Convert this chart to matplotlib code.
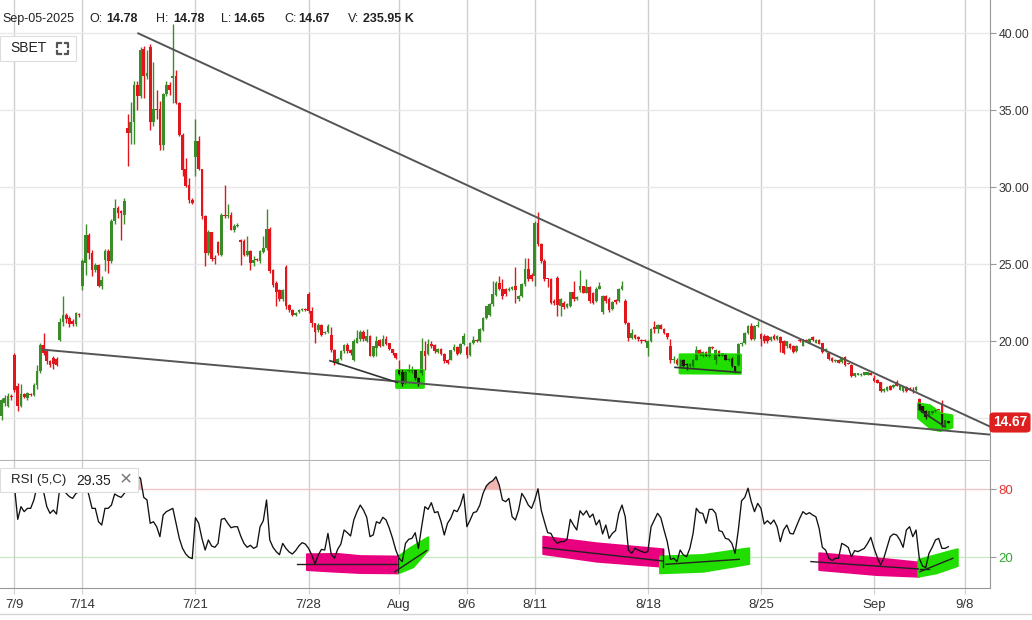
import numpy as np
import matplotlib.pyplot as plt
from matplotlib.patches import Polygon, Rectangle, FancyBboxPatch
from matplotlib.lines import Line2D

plt.rcParams['font.family'] = ['Liberation Sans', 'DejaVu Sans']

W, H = 1032, 620

# trading sessions on the axis (7/8 only its last 4 hours, 9/5 still running)
sessions = ['7/8', '7/9', '7/10', '7/11', '7/14', '7/15', '7/16', '7/17', '7/18',
            '7/21', '7/22', '7/23', '7/24', '7/25', '7/28', '7/29', '7/30', '7/31',
            '8/1', '8/4', '8/5', '8/6', '8/7', '8/8', '8/11', '8/12', '8/13', '8/14',
            '8/15', '8/18', '8/19', '8/20', '8/21', '8/22', '8/25', '8/26', '8/27',
            '8/28', '8/29', '9/2', '9/3', '9/4', '9/5', '9/8']
bars_per_session = [4] + [7] * 41 + [3, 0]
hours_per_session = 7

tick_sessions = ['7/9', '7/14', '7/21', '7/28', '8/1', '8/6', '8/11', '8/18', '8/25', '9/2', '9/8']
tick_labels = ['7/9', '7/14', '7/21', '7/28', 'Aug', '8/6', '8/11', '8/18', '8/25', 'Sep', '9/8']
price_ticks = [15, 20, 25, 30, 35, 40]

# hourly SBET candles, one line per session
opens = [
    15.11, 16.00, 15.80, 16.45,
    19.11, 17.06, 15.76, 16.58, 16.30, 16.55, 16.52,
    17.16, 18.03, 19.76, 19.33, 18.68, 18.90, 18.83,
    20.04, 21.23, 21.71, 21.50, 21.30, 21.10, 21.75,
    23.55, 25.06, 26.90, 25.71, 24.63, 24.96, 23.55,
    25.28, 25.82, 25.17, 27.77, 28.64, 28.42, 28.20,
    33.83, 33.51, 34.26, 36.65, 35.89, 38.96, 37.19,
    39.10, 34.26, 35.06, 35.06, 32.75, 36.06, 36.65,
    37.08, 37.19, 35.45, 33.40, 31.17, 30.15, 29.18,
    31.99, 33.03, 31.17, 28.10, 25.71, 27.08, 25.40,
    26.41, 25.61, 28.20, 28.14, 28.20, 27.20, 27.50,
    26.54, 26.50, 25.61, 25.82, 25.06, 25.30, 25.17,
    25.80, 26.04, 27.29, 24.63, 23.77, 23.29, 22.73,
    24.81, 22.36, 21.99, 21.71, 21.90, 22.00, 22.08,
    23.07, 21.97, 21.20, 20.70, 21.06, 20.50, 20.56,
    20.40, 19.44, 18.57, 18.83, 19.33, 19.76, 19.40,
    18.80, 19.90, 20.10, 20.60, 20.00, 20.30, 19.00,
    19.55, 20.05, 19.70, 20.13, 19.87, 19.48, 19.22,
    18.10, 18.00, 17.30, 18.05, 18.05, 18.10, 17.60,
    17.90, 19.33, 19.18, 19.83, 19.76, 19.30, 19.48,
    19.18, 18.79, 18.80, 19.40, 19.60, 19.23, 19.80,
    19.60, 19.10, 19.87, 20.04, 20.00, 20.70, 21.48,
    21.70, 22.40, 23.00, 23.77, 23.40, 23.35, 23.30,
    23.35, 23.60, 22.70, 22.90, 23.70, 24.70, 24.30,
    24.20, 27.70, 26.30, 25.20, 24.05, 24.00, 22.60,
    24.10, 22.30, 22.50, 22.20, 22.25, 23.20, 22.70,
    23.30, 23.55, 23.15, 23.50, 23.15, 22.60, 23.40,
    21.90, 22.90, 22.75, 22.10, 22.65, 22.60, 23.40,
    22.60, 21.20, 20.20, 20.40, 20.25, 20.05, 20.05,
    19.55, 20.00, 20.90, 20.80, 21.06, 20.80, 20.50,
    19.70, 18.75, 18.80, 18.35, 18.80, 18.50, 18.35,
    18.35, 18.80, 19.44, 19.00, 19.30, 19.00, 19.60,
    18.80, 19.33, 19.05, 19.10, 18.75, 18.85, 18.35,
    18.46, 19.80, 19.87, 20.50, 21.00, 20.10, 20.95,
    20.45, 20.30, 20.30, 20.05, 20.35, 20.10, 20.25,
    19.98, 19.65, 19.80, 19.65, 19.33, 20.04, 19.70,
    20.04, 19.87, 20.26, 19.87, 20.09, 19.87, 19.33,
    19.22, 18.90, 18.68, 18.79, 18.61, 18.94, 18.57,
    18.46, 17.71, 17.81, 17.79, 17.81, 17.81, 17.92,
    17.60, 17.49, 17.32, 16.73, 16.80, 17.10, 17.01,
    17.32, 16.84, 16.73, 17.01, 16.95, 16.84, 16.80,
    16.23, 15.76, 15.43, 15.11, 15.32, 15.43, 15.56,
    16.00, 14.50, 14.78,
]
highs = [
    16.30, 16.50, 16.60, 16.55,
    19.20, 17.30, 17.20, 16.65, 16.70, 16.65, 17.25,
    18.46, 19.90, 20.50, 19.40, 18.75, 19.00, 18.95,
    21.50, 22.90, 21.80, 21.60, 21.40, 21.90, 21.85,
    25.30, 27.60, 27.00, 25.90, 25.10, 25.00, 24.20,
    26.00, 26.00, 27.90, 29.20, 28.80, 28.50, 29.30,
    34.74, 35.50, 36.90, 36.90, 39.10, 39.20, 38.90,
    39.30, 38.16, 36.30, 35.60, 36.10, 36.90, 36.80,
    40.60, 37.60, 35.50, 33.50, 31.90, 30.60, 29.30,
    34.40, 33.30, 31.20, 28.20, 27.20, 27.10, 25.60,
    26.50, 28.30, 30.17, 28.90, 28.40, 27.60, 27.70,
    26.65, 26.60, 26.84, 25.90, 25.50, 25.40, 25.90,
    26.80, 28.57, 27.40, 24.70, 23.90, 23.40, 23.40,
    24.96, 22.40, 22.05, 21.90, 22.05, 22.15, 22.15,
    23.20, 22.20, 21.20, 21.15, 21.10, 20.65, 21.10,
    20.90, 19.50, 18.90, 19.40, 19.80, 19.90, 19.50,
    20.10, 20.70, 20.70, 20.70, 20.75, 20.40, 19.70,
    20.35, 20.10, 20.40, 20.35, 19.90, 19.50, 19.25,
    18.80, 18.20, 18.10, 18.50, 18.35, 18.20, 17.65,
    20.20, 20.00, 20.10, 20.00, 19.80, 19.55, 19.55,
    19.25, 18.85, 19.45, 19.80, 19.70, 19.90, 20.50,
    19.70, 19.95, 20.35, 20.10, 20.85, 21.55, 22.30,
    22.50, 23.87, 23.90, 24.20, 24.00, 23.45, 23.50,
    23.60, 24.80, 23.00, 23.80, 25.40, 25.40, 24.40,
    27.82, 28.40, 26.40, 25.30, 24.10, 24.10, 22.70,
    24.20, 22.80, 22.60, 22.50, 23.20, 23.90, 22.90,
    24.60, 23.60, 24.00, 23.60, 23.20, 23.50, 23.85,
    23.00, 23.00, 22.85, 22.60, 22.70, 23.45, 23.90,
    22.70, 21.25, 20.75, 20.45, 20.30, 20.10, 20.10,
    20.05, 20.85, 21.30, 21.10, 21.10, 20.85, 20.55,
    20.10, 19.00, 18.90, 18.85, 18.85, 18.55, 18.55,
    18.85, 19.65, 19.50, 19.35, 19.35, 19.65, 19.70,
    19.50, 19.40, 19.25, 19.20, 18.90, 18.95, 18.40,
    19.85, 19.95, 20.60, 21.05, 21.20, 21.05, 21.30,
    20.50, 20.45, 20.40, 20.35, 20.45, 20.40, 20.30,
    20.05, 20.00, 19.85, 19.75, 19.75, 20.10, 20.15,
    20.10, 20.20, 20.35, 20.15, 20.15, 19.90, 19.55,
    19.25, 18.95, 18.85, 18.85, 18.95, 19.00, 18.60,
    18.50, 17.95, 17.95, 17.90, 18.00, 18.00, 17.95,
    17.81, 17.55, 17.35, 16.92, 17.05, 17.15, 17.20,
    17.45, 17.15, 17.05, 17.05, 17.00, 17.00, 17.05,
    16.30, 15.80, 15.50, 15.45, 15.45, 15.58, 15.60,
    16.15, 14.90, 14.78,
]
lows = [
    14.89, 15.76, 15.70, 16.20,
    16.70, 15.43, 15.70, 16.30, 16.20, 16.40, 16.45,
    16.90, 17.90, 19.10, 18.50, 18.30, 18.20, 18.35,
    19.98, 21.00, 21.20, 20.90, 21.00, 21.00, 21.55,
    23.30, 24.30, 25.30, 24.20, 24.50, 23.50, 23.40,
    24.52, 24.40, 25.10, 27.60, 28.00, 26.58, 27.60,
    31.40, 32.80, 32.80, 35.00, 35.80, 35.80, 37.00,
    33.70, 34.00, 34.40, 32.40, 32.40, 35.90, 36.00,
    35.45, 35.40, 33.30, 30.70, 30.00, 29.00, 28.90,
    30.70, 31.10, 27.90, 24.90, 25.60, 25.20, 25.00,
    25.60, 25.50, 28.00, 28.00, 27.20, 27.10, 27.40,
    24.96, 25.50, 25.50, 24.63, 24.90, 25.20, 25.10,
    25.70, 25.90, 24.40, 23.50, 22.25, 22.60, 22.60,
    22.10, 21.90, 21.60, 21.65, 21.85, 21.95, 21.95,
    21.80, 20.90, 19.90, 20.60, 20.30, 20.45, 20.50,
    19.30, 18.46, 18.50, 18.80, 19.20, 19.20, 19.10,
    18.70, 19.85, 20.00, 20.00, 19.95, 19.00, 18.95,
    19.00, 19.60, 19.65, 19.75, 19.40, 19.10, 18.85,
    17.80, 17.10, 17.20, 18.00, 17.95, 17.50, 17.10,
    17.80, 18.10, 19.10, 19.55, 19.25, 19.25, 19.10,
    18.60, 18.50, 18.75, 19.35, 19.10, 19.15, 19.75,
    18.90, 19.00, 19.80, 19.95, 19.95, 20.65, 21.40,
    21.60, 22.30, 22.95, 23.30, 22.70, 22.95, 23.25,
    23.30, 22.50, 22.60, 22.85, 23.60, 23.90, 23.90,
    23.60, 26.20, 25.10, 23.90, 23.50, 22.40, 22.35,
    21.60, 21.60, 22.10, 22.15, 22.20, 22.60, 22.65,
    23.20, 23.10, 23.10, 22.50, 22.40, 22.55, 23.35,
    21.75, 22.50, 21.90, 22.00, 22.40, 22.55, 23.30,
    21.10, 20.00, 20.10, 20.10, 20.00, 19.90, 19.95,
    19.00, 19.95, 20.50, 20.50, 20.75, 20.45, 20.10,
    18.60, 18.60, 18.45, 18.30, 18.30, 18.15, 18.30,
    18.30, 18.75, 19.10, 18.95, 19.00, 18.95, 19.50,
    18.50, 19.00, 19.00, 18.75, 18.70, 18.30, 17.95,
    18.40, 19.70, 19.80, 20.45, 20.05, 20.05, 20.90,
    19.66, 19.90, 19.87, 20.00, 20.05, 20.05, 19.30,
    19.15, 19.55, 19.50, 19.20, 19.30, 19.95, 19.65,
    19.95, 19.85, 20.00, 19.85, 19.80, 19.20, 19.30,
    18.80, 18.65, 18.65, 18.55, 18.58, 18.40, 18.50,
    17.65, 17.68, 17.78, 17.75, 17.78, 17.78, 17.78,
    17.35, 17.25, 16.70, 16.70, 16.78, 16.80, 16.98,
    17.05, 16.80, 16.70, 16.70, 16.80, 16.60, 16.78,
    15.50, 15.30, 14.95, 15.05, 15.28, 15.40, 15.50,
    14.40, 14.45, 14.65,
]
closes = [
    16.19, 16.30, 16.40, 16.35,
    16.84, 15.76, 16.58, 16.35, 16.62, 16.50, 17.16,
    18.03, 19.76, 19.22, 18.68, 18.46, 18.50, 18.46,
    21.23, 21.70, 21.40, 21.10, 21.10, 21.80, 21.70,
    25.17, 26.90, 25.71, 24.63, 24.96, 23.55, 23.98,
    25.82, 25.20, 27.77, 28.64, 28.31, 28.31, 29.07,
    33.51, 34.26, 36.65, 35.89, 38.90, 37.20, 37.40,
    34.26, 35.06, 35.02, 32.75, 36.06, 36.65, 36.32,
    37.19, 35.45, 33.40, 31.13, 30.09, 29.18, 29.00,
    33.03, 31.17, 28.10, 25.71, 27.08, 25.32, 25.35,
    25.71, 28.20, 28.10, 28.20, 27.23, 27.50, 27.55,
    26.41, 25.61, 25.82, 25.06, 25.28, 25.28, 25.82,
    26.04, 27.29, 24.52, 23.66, 23.16, 22.73, 23.33,
    22.25, 22.03, 21.71, 21.85, 22.00, 22.08, 22.03,
    21.93, 21.20, 20.56, 21.06, 20.40, 20.56, 21.00,
    19.44, 18.57, 18.83, 19.33, 19.76, 19.33, 19.20,
    20.00, 20.20, 20.60, 20.10, 20.30, 19.05, 19.65,
    19.98, 19.70, 20.13, 19.83, 19.48, 19.22, 18.90,
    17.87, 17.20, 17.97, 18.15, 18.15, 17.60, 17.20,
    19.33, 19.05, 19.83, 19.65, 19.33, 19.48, 19.18,
    18.68, 18.60, 19.40, 19.63, 19.15, 19.83, 20.35,
    19.10, 19.87, 20.04, 20.00, 20.78, 21.48, 22.25,
    22.40, 23.05, 23.77, 23.38, 22.90, 23.03, 23.40,
    23.50, 23.30, 22.90, 23.70, 24.70, 24.00, 24.00,
    27.70, 26.30, 25.20, 24.00, 24.00, 22.50, 22.45,
    22.35, 22.70, 22.20, 22.40, 23.20, 22.70, 22.85,
    23.55, 23.15, 23.50, 22.60, 22.50, 23.40, 23.55,
    22.90, 22.60, 22.00, 22.55, 22.55, 23.40, 23.60,
    21.20, 20.20, 20.55, 20.20, 20.10, 20.00, 20.00,
    20.00, 20.80, 20.80, 21.06, 20.80, 20.50, 20.25,
    18.74, 18.80, 18.50, 18.80, 18.35, 18.45, 18.50,
    18.80, 19.40, 19.15, 19.30, 19.05, 19.60, 19.55,
    19.44, 19.05, 19.20, 18.80, 18.85, 18.35, 18.03,
    19.80, 19.90, 20.55, 21.00, 20.10, 21.00, 21.05,
    20.10, 19.98, 20.00, 20.25, 20.10, 20.30, 19.87,
    19.22, 19.98, 19.55, 19.26, 19.70, 19.98, 20.13,
    19.98, 20.13, 20.04, 20.09, 19.83, 19.26, 19.48,
    18.85, 18.68, 18.79, 18.57, 18.90, 18.46, 18.53,
    17.71, 17.92, 17.92, 17.86, 17.97, 17.97, 17.81,
    17.38, 17.27, 16.73, 16.88, 17.01, 16.84, 17.16,
    17.10, 17.10, 17.01, 16.73, 16.84, 16.73, 17.01,
    15.54, 15.32, 15.06, 15.43, 15.43, 15.54, 15.54,
    14.60, 14.85, 14.67,
]

# RSI(5, close) as shown in the lower panel, one value per candle
rsi = [
    85.0, 84.0, 86.0, 84.0,
    82.0, 53.5, 64.7, 60.3, 63.2, 63.2, 70.6,
    82.9, 87.6, 77.9, 64.7, 58.8, 61.7, 58.2,
    80.8, 80.8, 76.4, 73.5, 72.0, 76.4, 77.9,
    85.3, 85.3, 75.0, 63.2, 63.2, 51.4, 48.5,
    63.2, 63.2, 66.1, 75.9, 74.1, 72.9, 76.4,
    80.0, 86.7, 91.7, 91.7, 89.7, 72.9, 70.6,
    50.0, 51.4, 47.0, 38.2, 57.3, 60.3, 61.7,
    63.2, 50.0, 36.7, 27.9, 22.9, 20.0, 18.8,
    55.0, 50.0, 36.7, 26.4, 35.3, 30.0, 28.8,
    32.3, 53.5, 54.4, 50.0, 46.1, 47.0, 47.0,
    38.8, 32.3, 28.8, 30.6, 27.9, 29.4, 47.0,
    52.3, 70.6, 35.3, 28.8, 25.0, 22.3, 32.3,
    27.9, 24.7, 22.9, 25.9, 30.0, 32.9, 31.7,
    27.9, 22.0, 14.1, 22.0, 27.0, 26.4, 41.1,
    22.9, 19.1, 27.0, 31.7, 44.1, 41.7, 38.8,
    52.9, 60.3, 66.1, 61.7, 55.3, 38.2, 39.7,
    51.4, 50.0, 55.3, 52.9, 45.6, 36.7, 26.4,
    19.1, 16.2, 32.3, 35.9, 36.7, 41.7, 27.9,
    47.0, 64.7, 62.3, 68.2, 59.4, 60.3, 51.4,
    39.7, 50.0, 54.4, 61.7, 60.3, 66.1, 75.9,
    47.0, 52.9, 59.4, 60.3, 66.1, 76.4, 82.9,
    85.9, 87.6, 91.1, 83.8, 70.6, 69.1, 72.0,
    55.8, 52.9, 61.7, 76.4, 72.0, 66.1, 63.2,
    70.6, 80.5, 61.7, 51.4, 41.7, 41.1, 35.3,
    32.3, 33.8, 33.8, 35.9, 53.5, 48.5, 44.1,
    61.1, 57.3, 61.1, 55.3, 58.2, 48.5, 52.9,
    40.6, 48.5, 36.7, 41.1, 43.5, 58.8, 66.1,
    55.8, 26.4, 23.5, 27.9, 26.4, 25.3, 24.1,
    25.0, 47.0, 52.9, 58.8, 55.0, 44.1, 33.8,
    18.2, 19.1, 16.2, 26.4, 22.0, 20.6, 27.9,
    41.1, 63.2, 59.4, 58.8, 50.0, 62.3, 62.3,
    58.8, 43.5, 42.6, 36.7, 35.9, 32.3, 23.5,
    44.1, 69.9, 72.9, 81.0, 69.1, 60.3, 67.6,
    63.2, 49.4, 52.3, 49.4, 52.9, 47.0, 33.8,
    44.1, 48.5, 41.1, 40.6, 47.6, 54.4, 60.3,
    57.9, 59.4, 57.3, 55.8, 45.6, 28.8, 26.4,
    19.1, 17.1, 19.1, 19.1, 32.3, 30.8, 28.8,
    20.6, 25.9, 25.0, 26.4, 27.9, 32.3, 37.6,
    27.9, 20.0, 13.2, 19.1, 28.8, 38.2, 40.6,
    39.7, 35.3, 28.8, 44.1, 47.0, 38.2, 44.1,
    19.1, 12.3, 10.9, 23.5, 28.8, 35.3, 36.7,
    27.9, 27.9, 29.35,
]

# user drawings on the chart: (session position, price / rsi value)
trend_upper = [(5.46, 40.0), (43.13, 14.44)]
trend_lower = [(1.27, 19.44), (43.13, 13.92)]
short_lines = [[(13.95, 18.72), (16.92, 17.31)],
               [(29.20, 18.29), (32.07, 17.96)],
               [(40.03, 15.50), (41.14, 14.42)]]
price_marks = [
    [(16.87, 18.12), (18.07, 18.12), (18.07, 17.00), (16.87, 17.00)],
    [(29.42, 19.11), (32.10, 19.11), (32.10, 17.90), (29.42, 17.92)],
    [(39.96, 15.93), (40.47, 15.80), (40.98, 15.26), (41.45, 15.15),
     (41.45, 14.39), (40.92, 14.18), (40.55, 14.29), (39.96, 15.00)],
]
rsi_magenta = [
    [(12.93, 22.6), (14.3, 22.9), (15.3, 21.0), (16.97, 20.6), (16.97, 5.9), (15.3, 6.2), (14.0, 7.5), (12.93, 8.8)],
    [(23.38, 38.2), (25.74, 32.3), (28.68, 27.0), (28.68, 11.7), (25.74, 16.2), (23.38, 22.9)],
    [(35.58, 23.5), (38.12, 19.1), (40.00, 15.3), (40.00, 2.9), (38.12, 4.4), (35.58, 8.8)],
]
rsi_green = [
    [(16.97, 20.6), (17.48, 27.9), (18.29, 37.6), (18.29, 26.4), (17.63, 11.2), (16.97, 5.9)],
    [(28.54, 20.6), (30.45, 22.0), (32.48, 27.9), (32.48, 14.1), (30.45, 7.3), (28.54, 5.9)],
    [(39.96, 17.6), (40.77, 22.1), (41.70, 27.1), (41.70, 12.3), (40.77, 5.9), (39.96, 2.9)],
]
rsi_lines = [[(12.48, 13.8), (16.97, 13.8)], [(16.97, 22.0), (16.97, 7.3)],
             [(16.82, 7.3), (18.22, 25.9)],
             [(23.38, 28.5), (28.68, 16.7)], [(28.68, 27.0), (28.68, 11.7)],
             [(28.80, 13.8), (32.04, 18.2)],
             [(35.21, 16.2), (39.96, 9.7)], [(40.05, 10.0), (40.42, 10.0)],
             [(40.03, 7.3), (41.48, 19.1)]]

UP, DN = '#3a8c28', '#e0161c'
UP_IN, DN_IN = '#127a00', '#1c1806'
HL_GREEN, HL_PINK = '#22dd00', '#e8007f'

# candle positions: session index + hour / 7
xs = []
for j, n in enumerate(bars_per_session):
    start = hours_per_session - n if j == 0 else 0
    for k in range(n):
        xs.append(j - 1 + (start + k) / hours_per_session)
xs = np.array(xs)
o, h, l, c = map(np.array, (opens, highs, lows, closes))
rsi = np.array(rsi)


def draw_candles(ax, up_col, dn_col, z, clip=None):
    cols = np.where(c >= o, up_col, dn_col)
    wicks = ax.vlines(xs, l, h, colors=cols, lw=1.0, zorder=z)
    body = np.maximum(np.abs(c - o), 0.07)
    bars = ax.bar(xs, body, bottom=np.minimum(o, c), width=0.12, color=cols,
                  linewidth=0, zorder=z)
    if clip is not None:
        wicks.set_clip_path(clip)
        for r in bars:
            r.set_clip_path(clip)


fig = plt.figure(figsize=(W / 100, H / 100), dpi=100)
ax = fig.add_axes([0, 1 - 460 / H, 990 / W, 460 / H])
rax = fig.add_axes([0, 1 - 588 / H, 990 / W, 127 / H])

tick_pos = [sessions.index(s) - 1 for s in tick_sessions]
xlim = (-0.641, 43.126)

# ---- price panel
ax.set_xlim(*xlim)
ax.set_ylim(12.27, 42.16)
draw_candles(ax, UP, DN, 2)
for pts in price_marks:
    p = Polygon(pts, closed=True, fc=HL_GREEN, ec=HL_GREEN, lw=2, joinstyle='round', zorder=3)
    ax.add_patch(p)
    draw_candles(ax, UP_IN, DN_IN, 4, clip=p)
for seg in (trend_upper, trend_lower):
    ax.plot(*zip(*seg), color='#555555', lw=1.4, zorder=6, solid_capstyle='round')
for seg in short_lines:
    ax.plot(*zip(*seg), color='#333333', lw=1.2, zorder=6)

ax.set_xticks(tick_pos)
ax.set_yticks(price_ticks)
ax.yaxis.set_major_formatter(plt.FormatStrFormatter('%.2f'))
ax.grid(axis='y', color='#e8e8e8', lw=1, zorder=0)
ax.grid(axis='x', color='#cfcfcf', lw=1, zorder=0)
ax.tick_params(axis='x', length=0, labelbottom=False)
ax.tick_params(axis='y', left=False, labelleft=False, right=True, labelright=True,
               length=4, color='#999999', pad=2, labelsize=8.8, labelcolor='#333333')
for s in ('top', 'left'):
    ax.spines[s].set_visible(False)
ax.spines['right'].set_color('#999999')
ax.spines['bottom'].set_color('#b5b5b5')

# ---- RSI panel
rax.set_xlim(*xlim)
rax.set_ylim(-7.1, 105.0)
rax.axhline(80, color='#f1c6c6', lw=1, zorder=1)
rax.axhline(20, color='#cfe8c9', lw=1, zorder=1)
rax.fill_between(xs, rsi, 80, where=rsi >= 80, interpolate=True, color='#f2b3b3', lw=0, zorder=1)
for pts in rsi_magenta:
    rax.add_patch(Polygon(pts, closed=True, fc=HL_PINK, ec=HL_PINK, lw=1.5, joinstyle='round', zorder=2))
for pts in rsi_green:
    rax.add_patch(Polygon(pts, closed=True, fc=HL_GREEN, ec=HL_GREEN, lw=1.5, joinstyle='round', zorder=2))
rax.plot(xs, rsi, color='#111111', lw=0.95, zorder=3)
for seg in rsi_lines:
    rax.plot(*zip(*seg), color='#222222', lw=1.0, zorder=4)

rax.set_xticks(tick_pos)
rax.set_xticklabels(tick_labels)
rax.set_yticks([20, 80])
rax.grid(axis='x', color='#cfcfcf', lw=1, zorder=0)
rax.tick_params(axis='x', length=4, color='#cfcfcf', pad=4, labelsize=9.5, labelcolor='#333333')
rax.tick_params(axis='y', left=False, labelleft=False, right=True, labelright=True,
                length=4, color='#999999', pad=2, labelsize=9.5)
lbls = rax.get_yticklabels()
lbls[0].set_color('#2ea82e')
lbls[1].set_color('#e53535')
for s in ('top', 'left'):
    rax.spines[s].set_visible(False)
rax.spines['right'].set_color('#999999')
rax.spines['bottom'].set_color('#999999')


# ---- overlays in pixel coordinates
def fx(x):
    return x / W


def fy(y):
    return 1 - y / H


def box(x0, y0, x1, y1, fc='white', ec='#dddddd', z=5, rounded=False):
    if rounded:
        p = FancyBboxPatch((fx(x0), fy(y1)), fx(x1 - x0), (y1 - y0) / H,
                           boxstyle='round,pad=0,rounding_size=0.004',
                           transform=fig.transFigure, fc=fc, ec=ec, lw=0.8, zorder=z)
    else:
        p = Rectangle((fx(x0), fy(y1)), fx(x1 - x0), (y1 - y0) / H,
                      transform=fig.transFigure, fc=fc, ec=ec, lw=0.8, zorder=z)
    fig.patches.append(p)


def ftext(x, y, s, **kw):
    kw.setdefault('va', 'center')
    kw.setdefault('color', '#222222')
    kw.setdefault('fontsize', 9.5)
    fig.text(fx(x), fy(y), s, zorder=7, **kw)


# header values
ftext(2, 19, 'Sep-05-2025', fontsize=9)
for lab, val, xl, xv in [('O:', '14.78', 89, 106), ('H:', '14.78', 156, 173),
                         ('L:', '14.65', 221, 233), ('C:', '14.67', 284, 298),
                         ('V:', '235.95 K', 348, 363)]:
    ftext(xl, 19, lab, fontsize=9)
    ftext(xv, 19, val, fontweight='bold', fontsize=9)

# symbol chip
box(0, 36, 76, 61)
ftext(10, 48.5, 'SBET', fontsize=10)
for cx, cy, dx, dy in [(57, 43, 1, 1), (68, 43, -1, 1), (57, 54, 1, -1), (68, 54, -1, -1)]:
    fig.lines.append(Line2D([fx(cx), fx(cx), fx(cx + 3.5 * dx)],
                            [fy(cy + 3.5 * dy), fy(cy), fy(cy)],
                            transform=fig.transFigure, color='#555555', lw=1.6, zorder=7))

# RSI legend chip
box(0, 468, 138, 492)
ftext(11, 480, 'RSI (5,C)')
ftext(76, 481, '29.35', fontsize=10)
ftext(126, 479.5, '\u00d7', fontsize=15, color='#777777', ha='center')

# last price tag (covers the 15.00 label as in the source chart)
box(990, 413, 1030, 432, fc='#dd1f1f', ec='#dd1f1f', rounded=True)
ftext(1010, 422.5, '14.67', color='white', fontweight='bold', ha='center', fontsize=9.8)

# bottom border
fig.lines.append(Line2D([0, 1], [fy(614), fy(614)], transform=fig.transFigure,
                        color='#d5d5d5', lw=1, zorder=1))

fig.savefig('out.png', dpi=100)
